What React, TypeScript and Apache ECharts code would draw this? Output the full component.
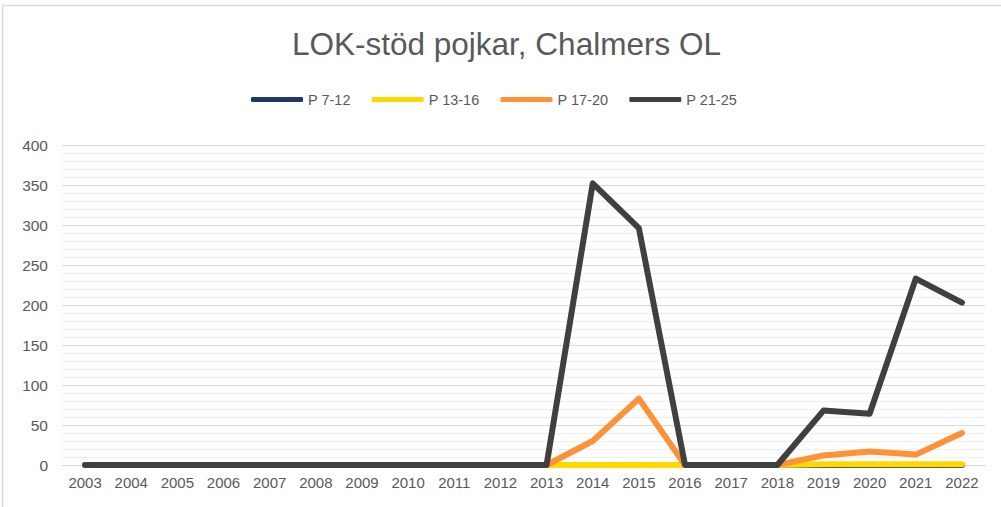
import React, { useEffect, useRef } from "react";
import * as echarts from "echarts";

const years = ["2003","2004","2005","2006","2007","2008","2009","2010","2011","2012","2013","2014","2015","2016","2017","2018","2019","2020","2021","2022"];
const p712 = [0,0,0,0,0,0,0,0,0,0,0,0,0,0,0,0,0,0,0,0];
const p1316 = [0,0,0,0,0,0,0,0,0,0,0,0,0,0,0,0,1,1,1,1];
const p1720 = [0,0,0,0,0,0,0,0,0,0,0,30,83,0,0,0,12,17,13,40];
const p2125 = [0,0,0,0,0,0,0,0,0,0,0,352,296,0,0,0,68,64,233,203];
const seriesNames = ["P 7-12", "P 13-16", "P 17-20", "P 21-25"];
const seriesColors = ["#1F3864", "#FFD800", "#FF9138", "#404040"];
const yTicks = { min: 0, max: 400, interval: 50 };

const FONT = "'Liberation Sans', Arial, sans-serif";

export default function App() {
  const ref = useRef<HTMLDivElement>(null);
  useEffect(() => {
    if (!ref.current) return;
    const chart = echarts.init(ref.current, undefined, { renderer: "svg" });
    const data = [p712, p1316, p1720, p2125];
    chart.setOption({
      animation: false,
      backgroundColor: "#ffffff",
      title: {
        text: "LOK-stöd pojkar, Chalmers OL",
        left: 287,
        top: 23,
        textStyle: { fontFamily: FONT, fontSize: 31.5, fontWeight: "normal", color: "#595959" },
      },
      legend: {
        left: 246,
        top: 87,
        icon: "roundRect",
        itemWidth: 52,
        itemHeight: 5,
        itemGap: 21,
        data: seriesNames,
        textStyle: { fontFamily: FONT, fontSize: 14.5, color: "#595959" },
      },
      grid: { left: 62, right: 16, top: 145, bottom: 42 },
      xAxis: {
        type: "category",
        data: years,
        boundaryGap: true,
        axisTick: { show: false },
        axisLine: { show: true, lineStyle: { color: "#d9d9d9", width: 1 } },
        axisLabel: { fontFamily: FONT, fontSize: 15, color: "#595959", margin: 10 },
      },
      yAxis: {
        type: "value",
        min: yTicks.min,
        max: yTicks.max,
        interval: yTicks.interval,
        axisLine: { show: false },
        axisTick: { show: false },
        axisLabel: { fontFamily: FONT, fontSize: 15.5, color: "#595959", margin: 14 },
        splitLine: { show: true, lineStyle: { color: "#d9d9d9", width: 1 } },
        minorTick: { show: false, splitNumber: 5 },
        minorSplitLine: { show: true, lineStyle: { color: "#efefef", width: 1 } },
      },
      graphic: [
        { type: "line", shape: { x1: 2.5, y1: 5.5, x2: 1001, y2: 5.5 }, style: { stroke: "#d9d9d9", lineWidth: 1.5 }, silent: true },
        { type: "line", shape: { x1: 2.5, y1: 5.5, x2: 2.5, y2: 507 }, style: { stroke: "#d9d9d9", lineWidth: 1.5 }, silent: true },
      ],
      series: seriesNames.map((n, i) => ({
        name: n,
        type: "line",
        data: data[i],
        showSymbol: false,
        symbol: "none",
        color: seriesColors[i],
        lineStyle: { width: 6, color: seriesColors[i], cap: "round", join: "round" },
      })),
    });
    return () => chart.dispose();
  }, []);
  return (
    <div
      ref={ref}
      style={{ position: "absolute", left: 0, top: 0, width: 1001, height: 507 }}
    />
  );
}
